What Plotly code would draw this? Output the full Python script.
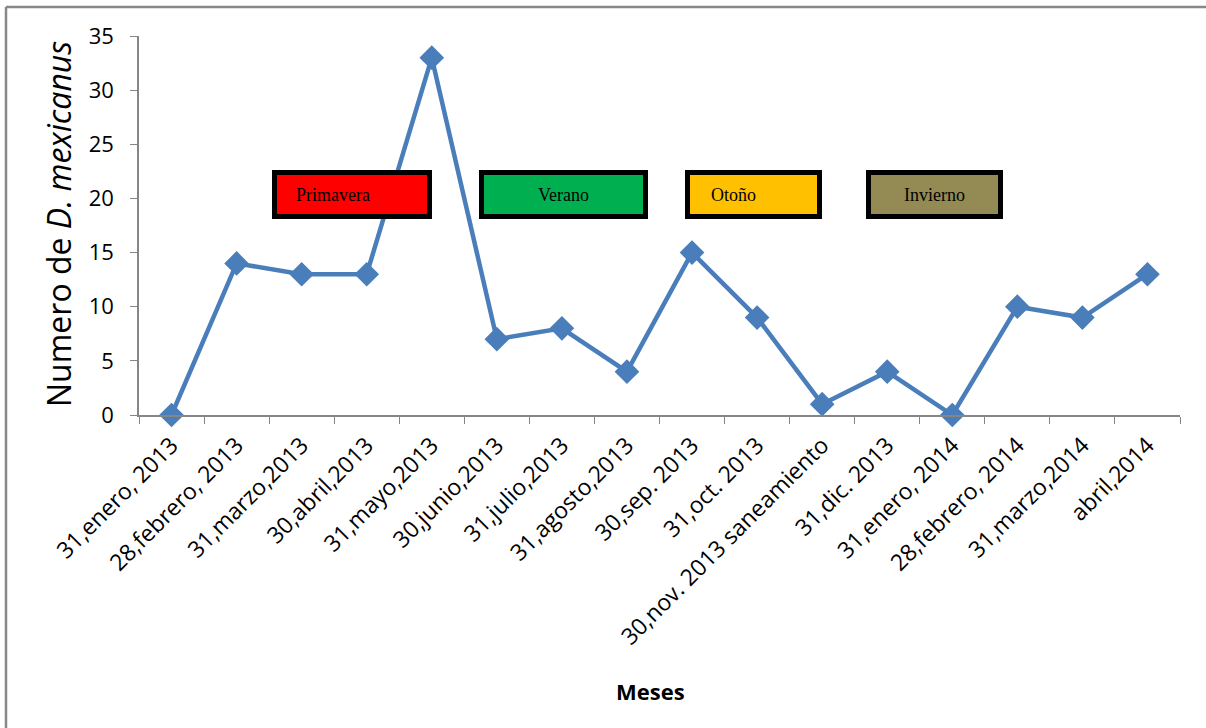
import plotly.graph_objects as go

# Monthly counts of D. mexicanus
meses = [
    "31,enero, 2013", "28,febrero, 2013", "31,marzo,2013", "30,abril,2013",
    "31,mayo,2013", "30,junio,2013", "31,julio,2013", "31,agosto,2013",
    "30,sep. 2013", "31,oct. 2013", "30,nov. 2013 saneamiento", "31,dic. 2013",
    "31,enero, 2014", "28,febrero, 2014", "31,marzo,2014", "abril,2014",
]
conteo = [0, 14, 13, 13, 33, 7, 8, 4, 15, 9, 1, 4, 0, 10, 9, 13]

estaciones = ["Primavera", "Verano", "Otoño", "Invierno"]
colores_estacion = ["#FF0000", "#00B050", "#FFC000", "#948A54"]
y_ticks = [0, 5, 10, 15, 20, 25, 30, 35]

W, H = 1206, 728
L, R, T, B = 139, 26, 36, 313
PW, PH = W - L - R, H - T - B


def px(x):
    return (x - L) / PW


def py(y):
    return (H - B - y) / PH


fig = go.Figure()
fig.add_trace(go.Scatter(
    x=meses, y=conteo, mode="lines+markers",
    line=dict(color="#4A7EBB", width=4.5),
    marker=dict(symbol="diamond", size=19, color="#4A7EBB"),
    showlegend=False, cliponaxis=False,
))

shapes = []
annotations = []

# Season boxes (pixel extents of each box and its label centre)
cajas = [(272, 432, 333), (479, 648, 563), (685, 822, 733), (866, 1003, 934)]
for (x0, x1, xc), nombre, col in zip(cajas, estaciones, colores_estacion):
    shapes.append(dict(type="rect", xref="paper", yref="paper",
                       x0=px(x0 + 2.5), x1=px(x1 - 2.5),
                       y0=py(170 + 2.5), y1=py(219 - 2.5),
                       fillcolor=col, line=dict(color="black", width=5),
                       layer="above"))
    annotations.append(dict(text=nombre, xref="paper", yref="paper",
                            x=px(xc), y=py(195), xanchor="center",
                            yanchor="middle", showarrow=False,
                            font=dict(family="Liberation Serif", size=18,
                                      color="black")))

# Chart frame (left and top edges)
shapes.append(dict(type="line", xref="paper", yref="paper",
                   x0=px(6), x1=px(6), y0=py(7), y1=py(740),
                   line=dict(color="#888888", width=2.5)))
shapes.append(dict(type="line", xref="paper", yref="paper",
                   x0=px(6), x1=px(1206), y0=py(7), y1=py(7),
                   line=dict(color="#888888", width=2.5)))

annotations.append(dict(text="Numero de <i>D. mexicanus</i>", xref="paper",
                        yref="paper", x=px(58), y=py(224), textangle=-90,
                        xanchor="center", yanchor="middle", showarrow=False,
                        font=dict(family="Open Sans", size=32, color="black")))
annotations.append(dict(text="<b>Meses</b>", xref="paper", yref="paper",
                        x=px(650), y=py(691), xanchor="center",
                        yanchor="middle", showarrow=False,
                        font=dict(family="Open Sans", size=22, color="black")))

fig.update_layout(
    width=W, height=H,
    margin=dict(l=L, r=R, t=T, b=B),
    paper_bgcolor="white", plot_bgcolor="white",
    shapes=shapes, annotations=annotations,
    xaxis=dict(
        type="category", range=[-0.5, 15.5], tickson="boundaries",
        ticks="outside", ticklen=7, tickcolor="#868686",
        showline=True, linecolor="#868686", linewidth=1.5,
        showgrid=False, zeroline=False, tickangle=-45,
        ticklabelstandoff=6,
        tickfont=dict(family="Open Sans", size=23, color="black"),
    ),
    yaxis=dict(
        range=[0, 35], tickvals=y_ticks, ticks="outside", ticklen=7,
        tickcolor="#868686", showline=True, linecolor="#868686",
        linewidth=1.5, showgrid=False, zeroline=False,
        ticklabelstandoff=12,
        tickfont=dict(family="Open Sans", size=22, color="black"),
    ),
)

fig.write_html("out.html")
